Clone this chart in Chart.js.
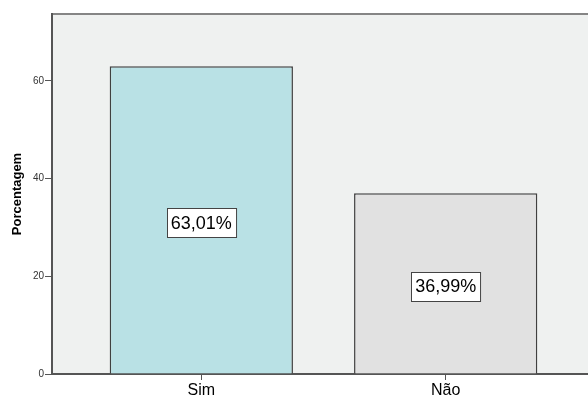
<!DOCTYPE html>
<html>
<head>
<meta charset="utf-8">
<style>
  html, body { margin: 0; padding: 0; background: #fff; }
  body { width: 588px; height: 400px; overflow: hidden; }
  #wrap { width: 600px; height: 400px; }
</style>
<script src="https://cdn.jsdelivr.net/npm/chart.js@4/dist/chart.umd.min.js"></script>
</head>
<body>
<div id="wrap"><canvas id="chart" width="600" height="400"></canvas></div>
<script>
// Categories and percentages
const categories = ["Sim", "Não"];
const percentages = [63.01, 36.99];
const barColors = ["#b9e1e5", "#e1e1e1"];
const yTicks = [0, 20, 40, 60];

const plotBg = "#eff1f0";
const axisColor = "#555555";

function formatPct(v) {
  return v.toFixed(2).replace(".", ",") + "%";
}

// Fill the plot area and draw the top frame line
const plotArea = {
  id: "plotArea",
  beforeDraw(chart) {
    const { ctx, chartArea: a } = chart;
    ctx.save();
    ctx.fillStyle = plotBg;
    ctx.fillRect(a.left, a.top, a.right - a.left, a.bottom - a.top);
    ctx.strokeStyle = "#858585";
    ctx.lineWidth = 2;
    ctx.beginPath();
    ctx.moveTo(a.left, a.top);
    ctx.lineTo(a.right, a.top);
    ctx.lineTo(a.right, a.bottom);
    ctx.stroke();
    ctx.restore();
  },
};

// Boxed percentage labels in the middle of each bar
const boxLabels = {
  id: "boxLabels",
  afterDatasetsDraw(chart) {
    const { ctx } = chart;
    const meta = chart.getDatasetMeta(0);
    ctx.save();
    ctx.font = "18px 'Liberation Sans', Arial, sans-serif";
    ctx.textAlign = "center";
    ctx.textBaseline = "middle";
    meta.data.forEach((bar, i) => {
      const text = formatPct(percentages[i]);
      const w = ctx.measureText(text).width + 8;
      const h = 29;
      const cx = bar.x;
      const cy = (bar.y + bar.base) / 2 + 3;
      const x = Math.round(cx - w / 2) + 0.5;
      const y = Math.round(cy - h / 2) + 0.5;
      ctx.fillStyle = "#ffffff";
      ctx.fillRect(x, y, w, h);
      ctx.strokeStyle = "#444444";
      ctx.lineWidth = 1;
      ctx.strokeRect(x, y, w, h);
      ctx.fillStyle = "#000000";
      ctx.fillText(text, cx, cy + 1);
    });
    ctx.restore();
  },
};

new Chart(document.getElementById("chart"), {
  type: "bar",
  data: {
    datasets: [
      {
        data: percentages.map((v, i) => ({ x: i, y: v })),
        backgroundColor: barColors,
        borderColor: "#404040",
        borderWidth: 1.5,
        categoryPercentage: 1,
        barPercentage: 0.75,
      },
    ],
  },
  options: {
    responsive: false,
    animation: false,
    layout: { padding: { top: 14, right: 5, left: 0, bottom: 0 } },
    plugins: {
      legend: { display: false },
      tooltip: { enabled: false },
    },
    scales: {
      x: {
        type: "linear",
        offset: false,
        min: -0.611,
        max: 1.611,
        afterBuildTicks(axis) {
          axis.ticks = categories.map((c, i) => ({ value: i }));
        },
        afterFit(axis) {
          axis.height = 26;
        },
        grid: {
          offset: false,
          drawOnChartArea: false,
          drawTicks: true,
          tickLength: 6,
          color: axisColor,
        },
        border: { display: true, color: axisColor, width: 2 },
        ticks: {
          padding: 1,
          color: "#000",
          font: { family: "'Liberation Sans', Arial, sans-serif", size: 16 },
          callback: (v) => categories[v],
        },
      },
      y: {
        min: 0,
        max: 73.7,
        afterBuildTicks(axis) {
          axis.ticks = yTicks.map((v) => ({ value: v }));
        },
        afterFit(axis) {
          axis.width = 52;
        },
        grid: {
          drawOnChartArea: false,
          drawTicks: true,
          tickLength: 7,
          color: axisColor,
        },
        border: { display: true, color: axisColor, width: 2 },
        ticks: {
          padding: 1,
          color: "#333",
          font: { family: "'Liberation Sans', Arial, sans-serif", size: 10 },
        },
        title: {
          display: true,
          text: "Porcentagem",
          color: "#000",
          font: { family: "'Liberation Sans', Arial, sans-serif", size: 13, weight: "bold" },
          padding: { top: 10, bottom: 0 },
        },
      },
    },
  },
  plugins: [plotArea, boxLabels],
});
</script>
</body>
</html>
